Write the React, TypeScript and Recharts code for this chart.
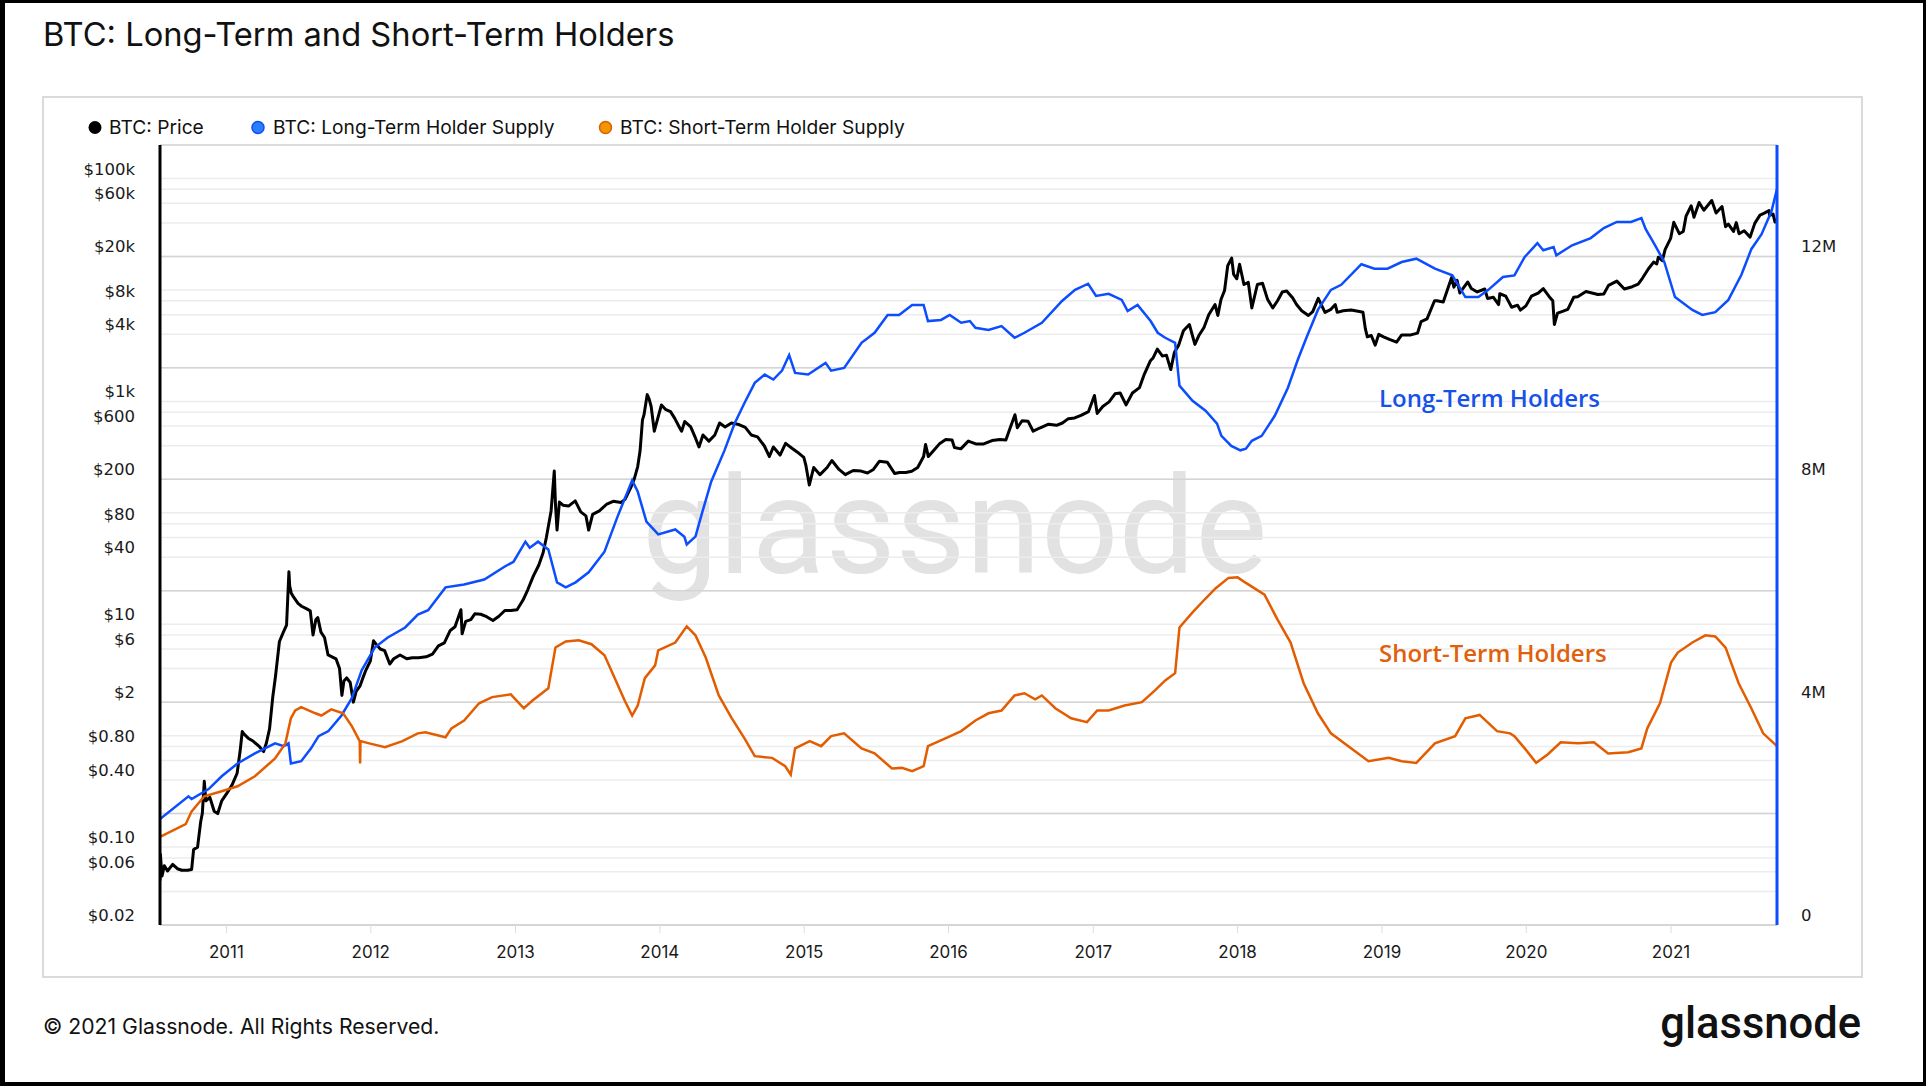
import React from 'react';
import { LineChart, Line, XAxis, YAxis, CartesianGrid } from 'recharts';

// ---------- DATA ----------
const priceDates = ['2010-07-17','2010-07-18','2010-07-22','2010-07-28','2010-08-05','2010-08-18','2010-08-30','2010-09-10','2010-09-25','2010-10-05','2010-10-10','2010-10-20','2010-10-28','2010-11-01','2010-11-06','2010-11-10','2010-11-20','2010-12-01','2010-12-10','2010-12-20','2011-01-01','2011-01-15','2011-01-28','2011-02-05','2011-02-10','2011-02-15','2011-02-25','2011-03-10','2011-03-25','2011-04-05','2011-04-12','2011-04-20','2011-04-28','2011-05-05','2011-05-15','2011-05-25','2011-06-02','2011-06-08','2011-06-10','2011-06-14','2011-06-20','2011-07-01','2011-07-10','2011-07-22','2011-08-01','2011-08-08','2011-08-15','2011-08-20','2011-08-28','2011-09-06','2011-09-15','2011-09-25','2011-10-05','2011-10-14','2011-10-20','2011-10-25','2011-11-01','2011-11-10','2011-11-18','2011-11-25','2011-12-05','2011-12-12','2011-12-20','2011-12-31','2012-01-08','2012-01-15','2012-01-25','2012-02-05','2012-02-18','2012-02-28','2012-03-15','2012-04-01','2012-04-15','2012-05-01','2012-05-20','2012-06-05','2012-06-20','2012-07-05','2012-07-20','2012-08-01','2012-08-16','2012-08-19','2012-08-28','2012-09-10','2012-09-20','2012-10-05','2012-10-20','2012-11-05','2012-11-20','2012-12-05','2012-12-20','2013-01-05','2013-01-20','2013-02-01','2013-02-15','2013-03-01','2013-03-12','2013-03-20','2013-04-01','2013-04-09','2013-04-12','2013-04-16','2013-04-22','2013-05-01','2013-05-15','2013-06-01','2013-06-15','2013-06-28','2013-07-05','2013-07-15','2013-08-01','2013-08-20','2013-09-05','2013-09-25','2013-10-05','2013-10-20','2013-10-28','2013-11-06','2013-11-12','2013-11-18','2013-11-22','2013-11-30','2013-12-05','2013-12-10','2013-12-18','2013-12-25','2014-01-05','2014-01-15','2014-01-28','2014-02-08','2014-02-20','2014-02-25','2014-03-05','2014-03-20','2014-04-01','2014-04-10','2014-04-20','2014-05-05','2014-05-20','2014-06-01','2014-06-15','2014-07-01','2014-07-20','2014-08-05','2014-08-20','2014-09-05','2014-09-22','2014-10-05','2014-10-15','2014-11-01','2014-11-15','2014-12-01','2014-12-15','2014-12-31','2015-01-05','2015-01-14','2015-01-25','2015-02-10','2015-02-28','2015-03-12','2015-03-30','2015-04-15','2015-05-05','2015-05-25','2015-06-10','2015-06-25','2015-07-10','2015-07-30','2015-08-18','2015-08-30','2015-09-15','2015-09-30','2015-10-15','2015-10-30','2015-11-04','2015-11-11','2015-11-25','2015-12-10','2015-12-25','2016-01-10','2016-01-16','2016-02-01','2016-02-20','2016-03-10','2016-03-30','2016-04-20','2016-05-10','2016-05-25','2016-06-05','2016-06-17','2016-06-23','2016-07-05','2016-07-20','2016-08-02','2016-08-20','2016-09-10','2016-09-30','2016-10-15','2016-10-30','2016-11-15','2016-12-01','2016-12-20','2017-01-04','2017-01-11','2017-01-25','2017-02-10','2017-02-25','2017-03-10','2017-03-25','2017-04-10','2017-04-28','2017-05-10','2017-05-25','2017-06-01','2017-06-12','2017-06-25','2017-07-05','2017-07-16','2017-07-25','2017-08-05','2017-08-17','2017-09-01','2017-09-15','2017-09-25','2017-10-08','2017-10-20','2017-11-05','2017-11-12','2017-11-20','2017-11-29','2017-12-07','2017-12-17','2017-12-22','2017-12-30','2018-01-06','2018-01-17','2018-01-28','2018-02-06','2018-02-20','2018-03-05','2018-03-18','2018-03-31','2018-04-12','2018-04-24','2018-05-05','2018-05-20','2018-05-30','2018-06-12','2018-06-29','2018-07-10','2018-07-24','2018-08-10','2018-08-25','2018-09-05','2018-09-10','2018-09-25','2018-10-15','2018-11-05','2018-11-14','2018-11-20','2018-11-25','2018-12-05','2018-12-15','2018-12-24','2019-01-05','2019-01-20','2019-02-07','2019-02-20','2019-03-15','2019-04-01','2019-04-10','2019-04-25','2019-05-14','2019-05-20','2019-06-05','2019-06-26','2019-07-02','2019-07-10','2019-07-17','2019-08-06','2019-08-15','2019-08-30','2019-09-18','2019-09-25','2019-10-10','2019-10-23','2019-10-26','2019-11-10','2019-11-25','2019-12-10','2019-12-17','2019-12-31','2020-01-14','2020-01-31','2020-02-13','2020-02-28','2020-03-08','2020-03-12','2020-03-20','2020-03-31','2020-04-15','2020-04-30','2020-05-10','2020-05-31','2020-06-15','2020-06-30','2020-07-15','2020-07-27','2020-08-17','2020-09-05','2020-09-25','2020-10-10','2020-10-21','2020-11-05','2020-11-18','2020-11-26','2020-11-30','2020-12-10','2020-12-17','2020-12-31','2021-01-08','2021-01-22','2021-02-01','2021-02-08','2021-02-21','2021-02-28','2021-03-13','2021-03-25','2021-04-14','2021-04-25','2021-05-10','2021-05-19','2021-05-26','2021-06-08','2021-06-15','2021-06-22','2021-07-05','2021-07-20','2021-08-01','2021-08-14','2021-08-25','2021-09-06','2021-09-07','2021-09-16','2021-09-21','2021-09-26'];
const priceValues = [0.05,0.086,0.055,0.068,0.061,0.07,0.064,0.062,0.062,0.063,0.095,0.1,0.17,0.2,0.39,0.26,0.28,0.21,0.2,0.26,0.3,0.36,0.46,0.75,1.09,1.03,0.95,0.89,0.8,0.72,0.86,1.15,2.2,3.4,7,8.5,9.8,29.6,22,19,17.5,15.4,14.5,13.8,13.2,8,11,11.5,8.5,7.6,5.3,5.1,4.9,4,2.3,3.1,3.3,3,2,2.5,2.8,3.3,3.9,4.7,7.1,6.6,6,5.8,4.4,4.9,5.3,4.9,5,5,5.1,5.4,6.4,6.8,8.8,9.5,13.5,8.2,10.6,11,12.4,12.3,11.7,10.8,11.8,13.3,13.3,13.5,16.5,20.4,27,34,44,60,104,237,120,70,125,117,115,128,102,94,70,97,104,120,127,124,132,170,200,260,360,680,760,1150,1050,900,540,670,930,850,810,700,580,540,660,590,470,390,500,440,500,640,590,640,620,585,500,480,400,320,390,330,420,380,350,315,270,178,255,220,255,295,245,220,240,237,228,245,290,285,225,230,230,236,255,320,410,320,365,420,455,450,385,375,440,415,415,445,455,450,580,760,580,670,665,540,580,625,610,640,700,710,750,810,1130,780,900,990,1170,1190,930,1190,1330,1750,2300,2450,2950,2550,2600,1930,2750,3200,4300,4900,3250,3900,4600,6000,7400,5900,8200,9900,16500,19300,13800,12600,17000,11200,11700,6900,11200,11500,8200,6900,8000,9600,9800,8500,7400,6500,5900,6400,8400,6300,6700,7400,6300,6500,6600,6400,6300,4500,3800,3900,3200,4000,3800,3600,3400,3950,3950,4100,5200,5500,8000,8000,7800,12900,10600,12200,9400,11800,10300,9600,10200,8400,8600,7400,9250,8800,7000,7300,6600,7200,8800,9350,10300,8700,8000,4900,6200,6400,6700,8600,8700,9700,9400,9100,9200,11000,12000,10200,10700,11300,12800,15500,17800,17100,19700,18300,23000,29000,40500,32000,33500,46000,57000,45000,61000,52000,63500,49000,56000,37000,39000,33500,40200,32000,34000,29800,39800,47000,48900,51700,46800,48000,40700,43200];

// Long-Term Holder Supply, millions of BTC
const lthDates = ['2010-07-17','2010-09-27','2010-10-05','2010-11-17','2010-12-20','2011-01-29','2011-03-14','2011-05-04','2011-05-26','2011-06-07','2011-06-13','2011-07-09','2011-08-03','2011-08-22','2011-09-16','2011-10-19','2011-11-14','2011-12-09','2012-01-11','2012-02-13','2012-03-28','2012-04-29','2012-05-25','2012-07-08','2012-08-24','2012-10-14','2012-12-04','2012-12-27','2013-01-26','2013-02-06','2013-02-27','2013-03-25','2013-04-16','2013-05-08','2013-06-02','2013-07-05','2013-08-14','2013-09-16','2013-10-23','2013-11-06','2013-11-28','2013-12-28','2014-02-09','2014-03-04','2014-03-10','2014-04-01','2014-04-20','2014-05-11','2014-06-13','2014-07-09','2014-08-03','2014-08-29','2014-09-23','2014-10-15','2014-11-06','2014-11-24','2014-12-09','2015-01-11','2015-02-24','2015-03-10','2015-04-12','2015-05-26','2015-06-28','2015-07-31','2015-08-29','2015-10-01','2015-10-30','2015-11-10','2015-12-13','2016-01-04','2016-02-02','2016-02-24','2016-03-09','2016-04-11','2016-05-14','2016-06-16','2016-07-11','2016-08-24','2016-10-14','2016-11-16','2016-12-19','2017-01-08','2017-02-09','2017-03-14','2017-03-29','2017-04-23','2017-05-26','2017-06-13','2017-07-02','2017-07-27','2017-08-07','2017-09-09','2017-10-12','2017-11-10','2017-11-21','2017-12-16','2018-01-08','2018-01-22','2018-02-06','2018-03-03','2018-04-05','2018-05-08','2018-06-02','2018-06-24','2018-07-23','2018-08-25','2018-09-20','2018-11-10','2018-12-13','2019-01-15','2019-02-20','2019-03-29','2019-05-15','2019-06-28','2019-07-31','2019-09-02','2019-09-27','2019-11-03','2019-12-02','2019-12-28','2020-01-29','2020-02-13','2020-03-10','2020-03-17','2020-04-26','2020-06-12','2020-07-15','2020-08-17','2020-09-22','2020-10-18','2020-10-29','2020-11-20','2020-12-15','2021-01-11','2021-02-24','2021-03-21','2021-04-23','2021-05-26','2021-06-28','2021-07-23','2021-08-18','2021-09-12','2021-09-26'];
const lthValues = [1.9,2.31,2.26,2.44,2.67,2.9,3.08,3.26,3.21,3.26,2.9,2.94,3.17,3.39,3.48,3.76,4.07,4.57,4.98,5.16,5.34,5.57,5.65,6.06,6.11,6.2,6.43,6.52,6.88,6.77,6.88,6.74,6.15,6.06,6.15,6.33,6.7,7.33,7.98,7.78,7.24,7.01,7.1,6.97,6.83,6.97,7.45,7.96,8.51,9.0,9.37,9.73,9.88,9.79,9.95,10.23,9.91,9.88,10.09,9.95,10.0,10.45,10.63,10.95,10.95,11.13,11.13,10.84,10.86,10.95,10.81,10.84,10.72,10.68,10.75,10.54,10.63,10.81,11.2,11.4,11.51,11.29,11.33,11.22,11.02,11.13,10.84,10.63,10.54,10.45,9.68,9.41,9.23,9.0,8.78,8.6,8.52,8.55,8.69,8.78,9.14,9.64,10.14,10.54,11.04,11.4,11.49,11.86,11.78,11.78,11.9,11.96,11.78,11.66,11.27,11.27,11.4,11.63,11.66,11.99,12.24,12.11,12.17,12.02,12.2,12.33,12.51,12.62,12.62,12.69,12.49,12.22,11.9,11.27,11.04,10.95,11.0,11.22,11.67,12.13,12.4,12.81,13.21];

// Short-Term Holder Supply, millions of BTC
const sthDates = ['2010-07-17','2010-09-20','2010-10-05','2010-11-06','2010-12-20','2011-01-29','2011-03-14','2011-05-04','2011-05-30','2011-06-13','2011-06-24','2011-07-09','2011-08-14','2011-08-29','2011-09-23','2011-10-23','2011-11-14','2011-12-04','2011-12-05','2011-12-06','2011-12-28','2012-02-06','2012-03-21','2012-04-29','2012-05-18','2012-07-08','2012-07-23','2012-08-24','2012-10-01','2012-11-03','2012-12-20','2013-01-22','2013-02-13','2013-03-25','2013-04-12','2013-05-08','2013-06-10','2013-07-12','2013-08-14','2013-09-09','2013-10-04','2013-10-23','2013-11-06','2013-11-24','2013-12-20','2013-12-28','2014-02-09','2014-03-10','2014-03-20','2014-04-01','2014-04-27','2014-05-30','2014-07-02','2014-08-03','2014-08-29','2014-10-12','2014-11-14','2014-11-28','2014-12-09','2015-01-15','2015-02-13','2015-03-10','2015-04-12','2015-05-26','2015-06-28','2015-08-11','2015-09-05','2015-10-01','2015-10-30','2015-11-10','2015-12-24','2016-02-02','2016-03-09','2016-04-11','2016-05-14','2016-06-16','2016-07-11','2016-08-07','2016-08-24','2016-09-27','2016-11-06','2016-12-16','2017-01-11','2017-02-09','2017-03-21','2017-05-04','2017-06-06','2017-07-02','2017-07-27','2017-08-07','2017-09-09','2017-10-12','2017-11-06','2017-12-09','2018-01-01','2018-01-22','2018-03-10','2018-04-12','2018-05-15','2018-06-17','2018-07-23','2018-08-25','2018-10-08','2018-11-28','2019-01-18','2019-02-20','2019-03-29','2019-05-15','2019-07-05','2019-07-31','2019-09-05','2019-10-19','2019-11-21','2019-12-02','2019-12-28','2020-01-26','2020-02-24','2020-03-28','2020-05-11','2020-06-20','2020-07-26','2020-09-15','2020-10-18','2020-11-02','2020-12-04','2021-01-01','2021-01-18','2021-02-24','2021-03-29','2021-04-23','2021-05-19','2021-06-21','2021-07-23','2021-08-22','2021-09-26'];
const sthValues = [1.58,1.81,2.04,2.31,2.4,2.49,2.67,2.99,3.26,3.71,3.85,3.91,3.8,3.76,3.87,3.8,3.57,3.3,2.9,3.3,3.26,3.19,3.3,3.44,3.46,3.37,3.53,3.67,3.98,4.09,4.14,3.89,4.03,4.25,4.98,5.09,5.11,5.04,4.84,4.43,4.03,3.76,3.94,4.43,4.66,4.93,5.07,5.36,5.29,5.2,4.8,4.12,3.71,3.35,3.03,3.0,2.85,2.7,3.17,3.3,3.21,3.39,3.44,3.17,3.08,2.81,2.82,2.76,2.85,3.21,3.35,3.48,3.67,3.8,3.85,4.12,4.16,4.05,4.12,3.89,3.71,3.64,3.85,3.85,3.94,4.0,4.21,4.39,4.52,5.34,5.61,5.86,6.04,6.23,6.24,6.14,5.93,5.48,5.07,4.34,3.8,3.44,3.21,2.94,3.0,2.94,2.91,3.26,3.39,3.71,3.77,3.48,3.44,3.39,3.17,2.91,3.06,3.28,3.26,3.28,3.08,3.1,3.17,3.53,3.98,4.71,4.89,5.07,5.2,5.18,4.98,4.34,3.89,3.44,3.21];

const yearTicks = ['2011-01-01','2012-01-01','2013-01-01','2014-01-01','2015-01-01','2016-01-01','2017-01-01','2018-01-01','2019-01-01','2020-01-01','2021-01-01'];
const xDomain = ['2010-07-17','2021-09-26'];

const priceTicks = [0.02,0.04,0.06,0.08,0.1,0.2,0.4,0.6,0.8,1,2,4,6,8,10,20,40,60,80,100,200,400,600,800,1000,2000,4000,6000,8000,10000,20000,40000,60000,80000,100000,200000];
const priceLabelValues = [0.02,0.06,0.1,0.4,0.8,2,6,10,40,80,200,600,1000,4000,8000,20000,60000,100000];
const priceLabelTexts = ['$0.02','$0.06','$0.10','$0.40','$0.80','$2','$6','$10','$40','$80','$200','$600','$1k','$4k','$8k','$20k','$60k','$100k'];

const supplyTicks = [0,2,4,6,8,10,12,14];
const supplyLabelValues = [0,4,8,12];
const supplyLabelTexts = ['0','4M','8M','12M'];

const legendNames = ['BTC: Price','BTC: Long-Term Holder Supply','BTC: Short-Term Holder Supply'];

// ---------- HELPERS ----------
const toTs = (d: string) => Date.parse(d + 'T00:00:00Z');
const makeSeries = (dates: string[], vals: number[]) => dates.map((d, i) => ({ t: toTs(d), v: vals[i] }));

const priceData = makeSeries(priceDates, priceValues);
const lthData = makeSeries(lthDates, lthValues);
const sthData = makeSeries(sthDates, sthValues);

const BLACK = '#000000';
const BLUE = '#0b4dff';
const ORANGE = '#e35d00';
const TXT = '#1a1a1a';
const SANS = 'Inter, Roboto, sans-serif';
const AXISFONT = '"DejaVu Sans", Verdana, sans-serif';

const PriceTick = (props: any) => {
  const { y, payload } = props;
  const idx = priceLabelValues.indexOf(payload.value);
  if (idx < 0) return <g />;
  return (
    <text x={135} y={y - 4} textAnchor="end" fontFamily={AXISFONT} fontSize={16.5} fill={TXT}>
      {priceLabelTexts[idx]}
    </text>
  );
};

const SupplyTick = (props: any) => {
  const { y, payload } = props;
  const idx = supplyLabelValues.indexOf(payload.value);
  if (idx < 0) return <g />;
  return (
    <text x={1801} y={y - 4} textAnchor="start" fontFamily={AXISFONT} fontSize={16.5} fill={TXT}>
      {supplyLabelTexts[idx]}
    </text>
  );
};

const YearTick = (props: any) => {
  const { x, payload } = props;
  return (
    <text x={x} y={958} textAnchor="middle" fontFamily={SANS} fontSize={17} fill={TXT}>
      {new Date(payload.value).getUTCFullYear()}
    </text>
  );
};

export default function App() {
  return (
    <div style={{ position: 'absolute', left: 0, top: 0, width: 1926, height: 1086, background: '#fff', overflow: 'hidden' }}>
      {/* background layer: frame, texts, watermark */}
      <svg width={1926} height={1086} style={{ position: 'absolute', left: 0, top: 0 }}>
        <text x={43} y={46} fontFamily={SANS} fontSize={32.7} fill="#111">BTC: Long-Term and Short-Term Holders</text>
        <rect x={43} y={97} width={1819} height={880} fill="none" stroke="#dadada" strokeWidth={2} />
        <circle cx={95} cy={127.5} r={6.5} fill={BLACK} />
        <text x={109} y={134} fontFamily={SANS} fontSize={19.2} fill="#111">{legendNames[0]}</text>
        <circle cx={258} cy={127.5} r={6} fill="#2f7dff" stroke={BLUE} strokeWidth={1.5} />
        <text x={273} y={134} fontFamily={SANS} fontSize={19.2} fill="#111">{legendNames[1]}</text>
        <circle cx={605.5} cy={127.5} r={6} fill="#f39400" stroke="#d46200" strokeWidth={1.5} />
        <text x={620} y={134} fontFamily={SANS} fontSize={19.2} fill="#111">{legendNames[2]}</text>
        <text x={642} y={573} fontFamily="Roboto, sans-serif" fontSize={136} fill="#e2e2e2">glassnode</text>
        <text x={43} y={1034} fontFamily={SANS} fontSize={21.2} fill="#111">© 2021 Glassnode. All Rights Reserved.</text>
        <text x={1861} y={1038} textAnchor="end" fontFamily="Roboto, sans-serif" fontWeight={500} fontSize={43.5} fill="#111">glassnode</text>
      </svg>
      <div style={{ position: 'absolute', left: 0, top: 0 }}>
        <LineChart width={1926} height={1086} data={priceData} margin={{ top: 145, right: 0, bottom: 121, left: 0 }}>
          <CartesianGrid yAxisId="p" vertical={false} stroke="#ececec" strokeWidth={1.5} />
          <CartesianGrid yAxisId="s" vertical={false} stroke="#d4d4d4" strokeWidth={1.5} />
          <XAxis
            dataKey="t"
            type="number"
            domain={[toTs(xDomain[0]), toTs(xDomain[1])]}
            allowDataOverflow
            ticks={yearTicks.map(toTs)}
            interval={0}
            height={40}
            axisLine={{ stroke: '#d6d6d6', strokeWidth: 2 }}
            tickLine={{ stroke: '#dddddd' }}
            tickSize={8}
            tick={YearTick}
          />
          <YAxis
            yAxisId="p"
            orientation="left"
            scale="log"
            domain={[0.02, 200000]}
            allowDataOverflow
            ticks={priceTicks}
            interval={0}
            width={160}
            axisLine={{ stroke: BLACK, strokeWidth: 3 }}
            tickLine={false}
            tick={PriceTick}
          />
          <YAxis
            yAxisId="s"
            orientation="right"
            domain={[0, 14]}
            allowDataOverflow
            ticks={supplyTicks}
            interval={0}
            width={149}
            axisLine={{ stroke: BLUE, strokeWidth: 3 }}
            tickLine={false}
            tick={SupplyTick}
          />
          <Line yAxisId="p" data={priceData} dataKey="v" type="linear" stroke={BLACK} strokeWidth={3} strokeLinejoin="round" dot={false} activeDot={false} isAnimationActive={false} />
          <Line yAxisId="s" data={lthData} dataKey="v" type="linear" stroke={BLUE} strokeWidth={2.5} dot={false} activeDot={false} isAnimationActive={false} />
          <Line yAxisId="s" data={sthData} dataKey="v" type="linear" stroke={ORANGE} strokeWidth={2.5} dot={false} activeDot={false} isAnimationActive={false} />
        </LineChart>
      </div>
      {/* foreground labels */}
      <svg width={1926} height={1086} style={{ position: 'absolute', left: 0, top: 0, pointerEvents: 'none' }}>
        <text x={1379} y={407} fontFamily='"Open Sans", sans-serif' fontWeight={600} fontSize={24} fill="#1752e8">Long-Term Holders</text>
        <text x={1379} y={662} fontFamily='"Open Sans", sans-serif' fontWeight={600} fontSize={24} fill="#e0600c">Short-Term Holders</text>
      </svg>
      <div style={{ position: 'absolute', left: 0, top: 0, width: 1926, height: 1086, boxSizing: 'border-box', borderStyle: 'solid', borderColor: '#000', borderWidth: '3px 3px 4px 5px', pointerEvents: 'none' }} />
    </div>
  );
}
